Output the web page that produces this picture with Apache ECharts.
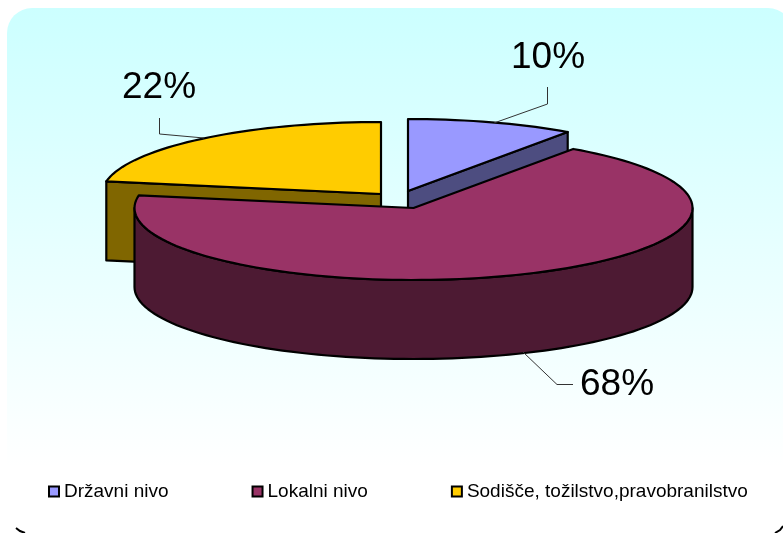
<!DOCTYPE html>
<html>
<head>
<meta charset="utf-8">
<title>Pie</title>
<style>
html, body { margin: 0; padding: 0; background: #fff; }
#main { width: 783px; height: 533px; }
</style>
<script src="https://cdn.jsdelivr.net/npm/echarts@6/dist/echarts.min.js"></script>
</head>
<body>
<div id="main"></div>
<script type="text/javascript">
// data, labels on the picture round these to 10, 68, 22
var categories = ['Državni nivo', 'Lokalni nivo', 'Sodišče, tožilstvo,pravobranilstvo']
var values = [9.7, 68.1, 22.2]

// look of each slice: top face, side face
var topColors = ['#9999ff', '#993366', '#ffcc00']
var sideColors = ['#4d4d80', '#4d1a33', '#806600']
// exploded centre of each slice on the page
var centers = [[408, 191], [413.5, 208], [381, 194]]
// label anchor and leader line per slice
var labelPos = [[548, 58], [617, 385], [159, 88]]
var leaders = [
    [[547.5, 87], [547.5, 104], [494, 123]],
    [[523, 352], [557, 384.5], [573, 384.5]],
    [[159.5, 118], [159.5, 134], [204, 138]]
]
// back slices first, the big one goes in front
var drawOrder = [2, 0, 1]

var rx = 279
var ry = 72
var depth = 79
var total = values.reduce(function (a, b) { return a + b }, 0)

function rim(c, deg, dy) {
    var t = deg * Math.PI / 180
    return [c[0] + rx * Math.sin(t), c[1] - ry * Math.cos(t) + (dy || 0)]
}

function arcPoints(c, from, to, dy) {
    var pts = []
    var n = Math.max(2, Math.ceil(Math.abs(to - from) / 2))
    for (var i = 0; i <= n; i++) {
        pts.push(rim(c, from + (to - from) * i / n, dy))
    }
    return pts
}

function poly(points, fill) {
    return {
        type: 'polygon',
        shape: { points: points },
        style: { fill: fill, stroke: '#000', lineWidth: 2.2, lineJoin: 'round' }
    }
}

function sideFace(c, deg, fill) {
    var tip = rim(c, deg)
    return poly([c, tip, [tip[0], tip[1] + depth], [c[0], c[1] + depth]], fill)
}

function renderSlice(index) {
    return function (params, api) {
        var start = 0
        for (var i = 0; i < index; i++) {
            start += values[i] / total * 360
        }
        var end = start + api.value(0) / total * 360
        var c = centers[index]
        var children = []

        // cut faces, only the ones that turn towards the viewer
        if (Math.sin(start * Math.PI / 180) < -0.01) {
            children.push(sideFace(c, start, sideColors[index]))
        }
        if (Math.sin(end * Math.PI / 180) > 0.01) {
            children.push(sideFace(c, end, sideColors[index]))
        }

        // outer wall, front half of the ellipse
        var wallFrom = Math.max(start, 90)
        var wallTo = Math.min(end, 270)
        if (wallTo > wallFrom) {
            var upper = arcPoints(c, wallFrom, wallTo, 0)
            var lower = arcPoints(c, wallTo, wallFrom, depth)
            children.push(poly(upper.concat(lower), sideColors[index]))
        }

        // top face
        children.push(poly([c].concat(arcPoints(c, start, end, 0)), topColors[index]))

        children.push({
            type: 'polyline',
            shape: { points: leaders[index] },
            style: { fill: null, stroke: '#333', lineWidth: 1 }
        })
        children.push({
            type: 'text',
            style: {
                text: Math.round(api.value(0)) + '%',
                x: labelPos[index][0],
                y: labelPos[index][1],
                align: 'center',
                verticalAlign: 'middle',
                fill: '#000',
                font: '37px "Liberation Sans", Arial, sans-serif'
            }
        })
        return { type: 'group', children: children }
    }
}

var series = []
drawOrder.forEach(function (index) {
    series.push({
        type: 'custom',
        name: categories[index],
        coordinateSystem: 'none',
        itemStyle: { color: topColors[index] },
        renderItem: renderSlice(index),
        data: [[values[index]]],
        silent: true
    })
})

var myChart = echarts.init(document.getElementById('main'), null, { renderer: 'canvas' })
myChart.setOption({
    animation: false,
    graphic: [
        {
            type: 'rect',
            z: -10,
            shape: { x: 7, y: 8, width: 786, height: 540, r: 25 },
            style: {
                fill: {
                    type: 'linear', x: 0, y: 0, x2: 0, y2: 1,
                    colorStops: [
                        { offset: 0, color: '#ccffff' },
                        { offset: 0.85, color: '#ffffff' }
                    ]
                }
            }
        },
        {
            type: 'polyline',
            z: -9,
            shape: { points: [[16, 528], [20, 531], [25, 533]] },
            style: { fill: null, stroke: '#000', lineWidth: 2 }
        },
        {
            type: 'polyline',
            z: -9,
            shape: { points: [[775, 533], [780, 530], [783, 526]] },
            style: { fill: null, stroke: '#000', lineWidth: 2 }
        }
    ],
    legend: {
        data: categories,
        left: 43,
        top: 477,
        orient: 'horizontal',
        icon: 'rect',
        itemWidth: 10,
        itemHeight: 10,
        itemGap: 83,
        itemStyle: { borderColor: '#000', borderWidth: 2 },
        textStyle: { fontFamily: '"Liberation Sans", Arial, sans-serif', fontSize: 19, color: '#000' },
        selectedMode: false
    },
    series: series
})
</script>
</body>
</html>
